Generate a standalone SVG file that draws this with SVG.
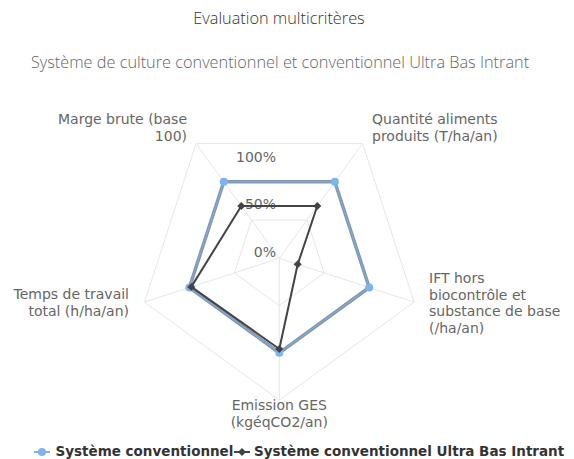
<svg xmlns="http://www.w3.org/2000/svg" width="574" height="459" viewBox="0 0 574 459">
<style>
.title{font-family:"Open Sans","Lato",sans-serif;font-size:16.3px;font-weight:300;fill:#333}
.sub{font-family:"Open Sans","Lato",sans-serif;font-size:16.3px;font-weight:300;fill:#666}
.ax{font-family:"DejaVu Sans",sans-serif;font-size:14px;fill:#666}
.leg{font-family:"DejaVu Sans",sans-serif;font-size:13.5px;font-weight:bold;fill:#333}
.grid{fill:none;stroke:#e6e6e6;stroke-width:1}
.s1shadow{fill:none;stroke:#8396ab;stroke-width:3.5;stroke-linejoin:round}
.s1{fill:none;stroke:#7cb5ec;stroke-width:1;stroke-opacity:0.8;stroke-linejoin:round}
.s2{fill:none;stroke:#434348;stroke-width:2;stroke-linejoin:round}
.m1{fill:#7cb5ec}
.m2{fill:#434348}
</style>
<rect width="574" height="459" fill="#ffffff"/>
<text class="title" x="279" y="24" text-anchor="middle">Evaluation multicritères</text>
<text class="sub" x="280" y="68" text-anchor="middle">Système de culture conventionnel et conventionnel Ultra Bas Intrant</text>
<g id="grid">
<polygon class="grid" points="196.0,143.6 362.6,143.6 414.1,302.1 279.3,400.1 144.5,302.1"/>
<polygon class="grid" points="223.8,181.8 334.8,181.8 369.2,287.5 279.3,352.8 189.4,287.5"/>
<polygon class="grid" points="251.5,220.1 307.1,220.1 324.2,272.9 279.3,305.6 234.4,272.9"/>
<path class="grid" d="M279.3,258.3L196.0,143.6M279.3,258.3L362.6,143.6M279.3,258.3L414.1,302.1M279.3,258.3L279.3,400.1M279.3,258.3L144.5,302.1"/>
</g>
<g id="axis-labels">
<text class="ax" x="276" y="162" text-anchor="end">100%</text>
<text class="ax" x="276" y="209" text-anchor="end">50%</text>
<text class="ax" x="276" y="257" text-anchor="end">0%</text>
<text class="ax" x="187" y="124" text-anchor="end">Marge brute (base</text>
<text class="ax" x="187" y="140.5" text-anchor="end">100)</text>
<text class="ax" x="372" y="124">Quantité aliments</text>
<text class="ax" x="372" y="140.5">produits (T/ha/an)</text>
<text class="ax" x="429" y="283">IFT hors</text>
<text class="ax" x="429" y="299.5">biocontrôle et</text>
<text class="ax" x="429" y="316">substance de base</text>
<text class="ax" x="429" y="332.5">(/ha/an)</text>
<text class="ax" x="279.3" y="410" text-anchor="middle">Emission GES</text>
<text class="ax" x="279.3" y="426.5" text-anchor="middle">(kgéqCO2/an)</text>
<text class="ax" x="129" y="299" text-anchor="end">Temps de travail</text>
<text class="ax" x="129" y="315.5" text-anchor="end">total (h/ha/an)</text>
</g>
<g id="series-conventionnel">
<polygon class="s1shadow" points="223.8,181.8 334.8,181.8 369.2,287.5 279.3,352.8 189.4,287.5"/>
<polygon class="s1" points="223.8,181.8 334.8,181.8 369.2,287.5 279.3,352.8 189.4,287.5"/>
<circle class="m1" cx="223.8" cy="181.8" r="4"/>
<circle class="m1" cx="334.8" cy="181.8" r="4"/>
<circle class="m1" cx="369.2" cy="287.5" r="4"/>
<circle class="m1" cx="279.3" cy="352.8" r="4"/>
<circle class="m1" cx="189.4" cy="287.5" r="4"/>
</g>
<g id="series-ubi">
<polygon class="s2" points="241.3,206.0 317.3,206.0 297.7,264.3 279.3,349.0 191.3,286.9"/>
<path class="m2" d="M241.3,202L245.3,206L241.3,210L237.3,206Z"/>
<path class="m2" d="M317.3,202L321.3,206L317.3,210L313.3,206Z"/>
<path class="m2" d="M297.7,260.3L301.7,264.3L297.7,268.3L293.7,264.3Z"/>
<path class="m2" d="M279.3,345L283.3,349L279.3,353L275.3,349Z"/>
<path class="m2" d="M191.3,282.9L195.3,286.9L191.3,290.9L187.3,286.9Z"/>
</g>
<g id="legend">
<path d="M34,452H50" stroke="#7cb5ec" stroke-width="2"/>
<circle class="m1" cx="42" cy="452" r="4"/>
<text class="leg" x="55.5" y="456">Système conventionnel</text>
<path d="M234,452H250" stroke="#434348" stroke-width="2"/>
<path class="m2" d="M242,448L246,452L242,456L238,452Z"/>
<text class="leg" x="254" y="456">Système conventionnel Ultra Bas Intrant</text>
</g>
</svg>
